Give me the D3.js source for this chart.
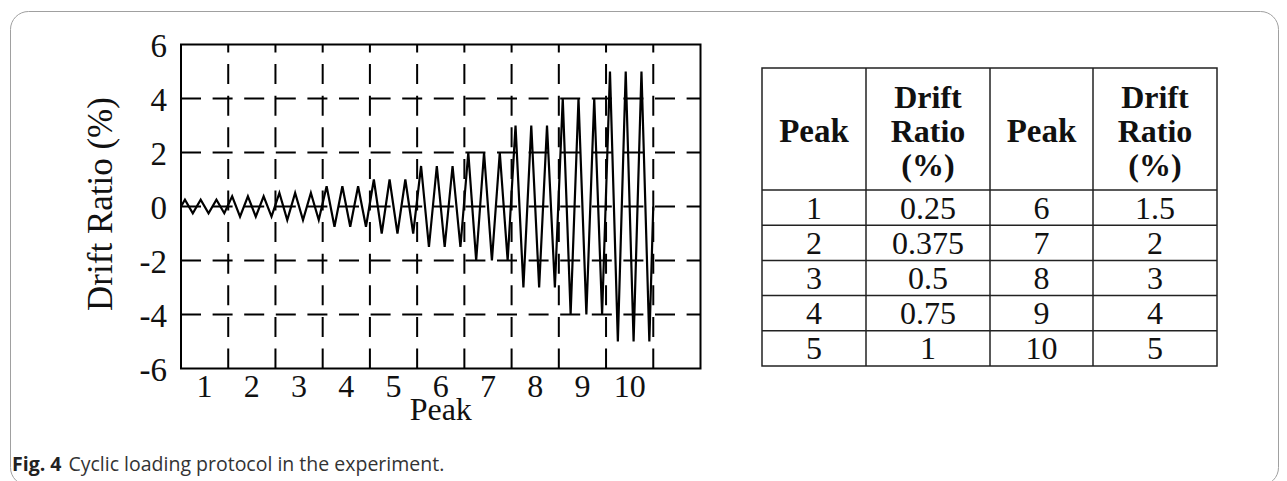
<!DOCTYPE html>
<html>
<head>
<meta charset="utf-8">
<script src="https://cdn.jsdelivr.net/npm/d3@7"></script>
<style>
  body { margin: 0; background: #fff; }
  svg { display: block; }
</style>
</head>
<body>
<svg id="chart" width="1287" height="481"></svg>
<script>
// loading levels (peak number -> drift ratio %)
const peaks = [1, 2, 3, 4, 5, 6, 7, 8, 9, 10];
const driftRatio = [0.25, 0.375, 0.5, 0.75, 1, 1.5, 2, 3, 4, 5];
const driftLabels = ['0.25', '0.375', '0.5', '0.75', '1', '1.5', '2', '3', '4', '5'];
const yTicks = [-6, -4, -2, 0, 2, 4, 6];
const gridY = [-4, -2, 0, 2, 4];

// history: start at 0, three cycles per level, back to 0
const wave = [
  0,
  0.25, -0.25, 0.25, -0.25, 0.25, -0.25,
  0.375, -0.375, 0.375, -0.375, 0.375, -0.375,
  0.5, -0.5, 0.5, -0.5, 0.5, -0.5,
  0.75, -0.75, 0.75, -0.75, 0.75, -0.75,
  1, -1, 1, -1, 1, -1,
  1.5, -1.5, 1.5, -1.5, 1.5, -1.5,
  2, -2, 2, -2, 2, -2,
  3, -3, 3, -3, 3, -3,
  4, -4, 4, -4, 4, -4,
  5, -5, 5, -5, 5, -5,
  0
];

const svg = d3.select('#chart');
const serif = "'Liberation Serif', 'Times New Roman', serif";

// outer panel
svg.append('rect')
  .attr('x', 10.5).attr('y', 11.5)
  .attr('width', 1268).attr('height', 474)
  .attr('rx', 18)
  .attr('fill', 'none')
  .attr('stroke', '#a0a0a0')
  .attr('stroke-width', 1);

const x = d3.scaleLinear().domain([0, 11]).range([181, 700.5]);
const y = d3.scaleLinear().domain([-6, 6]).range([368.5, 44.5]);

function label(g, tx, ty, str, opts) {
  return g.append('text')
    .attr('transform', `translate(${tx},${ty})` + (opts.rotate ? ` rotate(${opts.rotate})` : ''))
    .attr('text-anchor', opts.anchor || 'middle')
    .attr('font-family', serif)
    .attr('font-size', opts.size || 33)
    .attr('font-weight', opts.weight || 'normal')
    .attr('fill', '#111')
    .text(str);
}

const plot = svg.append('g');

// dashed grid
plot.selectAll('.gx').data(peaks).enter().append('line')
  .attr('x1', d => x(d)).attr('x2', d => x(d))
  .attr('y1', y(-6)).attr('y2', y(6))
  .attr('stroke', '#000').attr('stroke-width', 2)
  .attr('stroke-dasharray', '20,11.6');

plot.selectAll('.gy').data(gridY).enter().append('line')
  .attr('x1', x(0)).attr('x2', x(11))
  .attr('y1', d => y(d)).attr('y2', d => y(d))
  .attr('stroke', '#000').attr('stroke-width', 2)
  .attr('stroke-dasharray', '20,11.6');

// loading history
const line = d3.line()
  .x((d, i) => x(i === 0 ? 0 : i === wave.length - 1 ? 10 : (i - 0.5) / 6))
  .y(d => y(d));

plot.append('path')
  .datum(wave)
  .attr('d', line)
  .attr('fill', 'none')
  .attr('stroke', '#000')
  .attr('stroke-width', 2.2);

// frame
plot.append('rect')
  .attr('x', x(0)).attr('y', y(6))
  .attr('width', x(11) - x(0)).attr('height', y(-6) - y(6))
  .attr('fill', 'none').attr('stroke', '#000').attr('stroke-width', 2);

// axis labels
yTicks.forEach(v => label(svg, 167, y(v) + 12, v, { anchor: 'end' }));
peaks.forEach(p => label(svg, x(p - 0.5), 397, p, { size: 32 }));
label(svg, x(5.5), 420, 'Peak', { size: 32 });
label(svg, 112, 204, 'Drift Ratio (%)', { rotate: -90, size: 35 });

// table
const colX = [762, 866, 990, 1093, 1217];
const tblTop = 68, headBottom = 190, rowH = 35.2;
const tbl = svg.append('g');
const rows = d3.range(5);

tbl.append('rect')
  .attr('x', colX[0]).attr('y', tblTop)
  .attr('width', colX[4] - colX[0]).attr('height', headBottom + rowH * 5 - tblTop)
  .attr('fill', 'none').attr('stroke', '#222').attr('stroke-width', 1.5);
tbl.selectAll('.vc').data(colX.slice(1, 4)).enter().append('line')
  .attr('x1', d => d).attr('x2', d => d)
  .attr('y1', tblTop).attr('y2', headBottom + rowH * 5)
  .attr('stroke', '#222').attr('stroke-width', 1.5);
tbl.selectAll('.hr').data(rows).enter().append('line')
  .attr('x1', colX[0]).attr('x2', colX[4])
  .attr('y1', d => headBottom + rowH * d).attr('y2', d => headBottom + rowH * d)
  .attr('stroke', '#222').attr('stroke-width', 1.5);

const mid = i => (colX[i] + colX[i + 1]) / 2;
[0, 2].forEach(c => {
  label(tbl, mid(c), 142, 'Peak', { weight: 'bold', size: 33 });
  ['Drift', 'Ratio', '(%)'].forEach((s, k) =>
    label(tbl, mid(c + 1), 108 + 34 * k, s, { weight: 'bold', size: 32 }));
});
rows.forEach(r => {
  const cy = headBottom + rowH * r + rowH / 2 + 11;
  label(tbl, mid(0), cy, peaks[r], { size: 32 });
  label(tbl, mid(1), cy, driftLabels[r], { size: 32 });
  label(tbl, mid(2), cy, peaks[r + 5], { size: 32 });
  label(tbl, mid(3), cy, driftLabels[r + 5], { size: 32 });
});

// caption
const cap = svg.append('text')
  .attr('x', 12).attr('y', 471)
  .attr('font-family', "'Open Sans', sans-serif")
  .attr('font-size', 19.5)
  .attr('fill', '#333');
cap.append('tspan').attr('font-weight', 'bold').attr('fill', '#222').text('Fig. 4');
cap.append('tspan').attr('dx', 7).text('Cyclic loading protocol in the experiment.');
</script>
</body>
</html>
